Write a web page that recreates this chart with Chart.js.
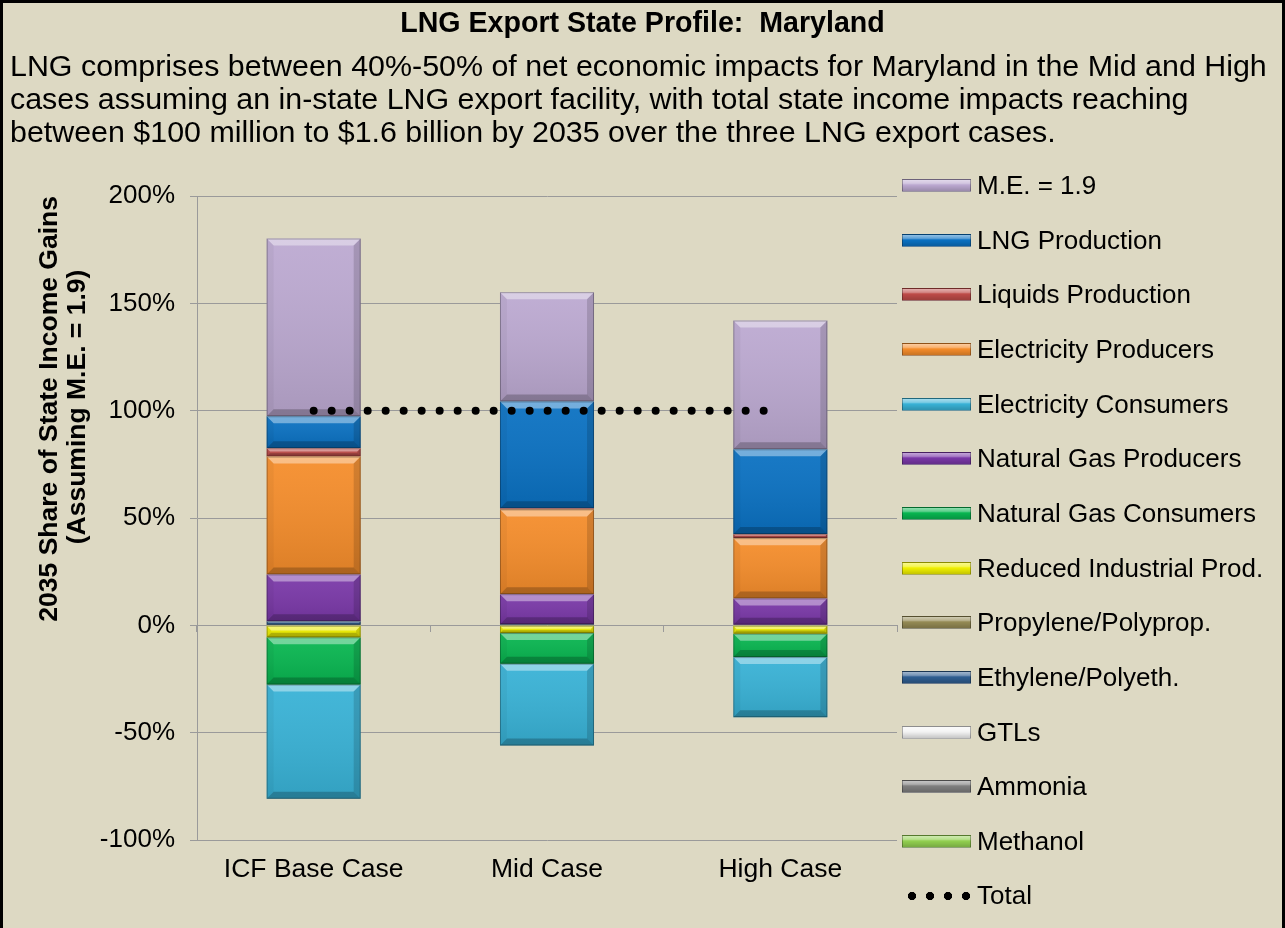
<!DOCTYPE html>
<html>
<head>
<meta charset="utf-8">
<title>LNG Export State Profile: Maryland</title>
<script src="https://cdn.jsdelivr.net/npm/chart.js@4.4.1/dist/chart.umd.min.js"></script>
<style>
  html, body { margin: 0; padding: 0; background: #DDD9C3; overflow: hidden; }
  #page { position: relative; width: 1285px; height: 928px; overflow: hidden; background: #DDD9C3; font-family: Arial, "Liberation Sans", sans-serif; }
  #chart { position: absolute; left: 0; top: 0; }
  #frame { position: absolute; left: 0; top: 0; width: 1279px; height: 940px; border: 3px solid #000; pointer-events: none; }
  #title { position: absolute; left: 0; top: 6px; width: 1285px; text-align: center; font-weight: bold; font-size: 28.6px; line-height: 33px; white-space: pre; }
  #subtitle { position: absolute; left: 10px; top: 49px; font-size: 30.4px; line-height: 33px; white-space: nowrap; }
  #legend { position: absolute; left: 902px; top: 0; }
  .item { position: absolute; left: 0; height: 30px; width: 380px; }
  .swatch { position: absolute; left: 0; top: 8px; width: 67px; height: 11px; border: 1px solid rgba(0,0,0,0.3); }
  .dots { position: absolute; left: 1px; top: 9px; width: 72px; height: 12px;
          background-image: radial-gradient(circle, #000 3.8px, transparent 4.4px); background-size: 18px 12px; }
  .label { position: absolute; left: 75px; top: 0; font-size: 26px; line-height: 28px; white-space: nowrap; color: #000; }
</style>
</head>
<body>
<div id="page">
  <canvas id="chart" width="1285" height="928"></canvas>
  <div id="title">LNG Export State Profile:  Maryland</div>
  <div id="subtitle">LNG comprises between 40%-50% of net economic impacts for Maryland in the Mid and High<br>cases assuming an in-state LNG export facility, with total state income impacts reaching<br>between $100 million to $1.6 billion by 2035 over the three LNG export cases.</div>
  <div id="legend"></div>
  <div id="frame"></div>
</div>
<script>
// categories and series (% share of 2035 state income gains)
const categories = ['ICF Base Case', 'Mid Case', 'High Case'];

const methanol          = [0, 0, 0];
const ammonia           = [0, 0, 0];
const gtls              = [0, 0, 0];
const ethylene          = [1.9, 0.5, 0.3];
const propylene         = [0, 0, 0];
const reducedIndustrial = [-5.6, -3.6, -3.9];
const ngConsumers       = [-22.0, -14.3, -10.9];
const ngProducers       = [21.8, 14.0, 12.2];
const elecConsumers     = [-53.2, -38.1, -28.0];
const elecProducers     = [54.9, 39.5, 28.1];
const liquids           = [3.9, 0.5, 1.9];
const lngProduction     = [14.9, 49.8, 39.5];
const multiplier        = [82.8, 50.9, 60.0];
const total             = [100, 100, 100];

const yTicks = [-100, -50, 0, 50, 100, 150, 200];

// stacking order, bottom to top (legend shows it reversed)
const series = [
    { name: 'Methanol', data: methanol, color: '#92D050' },
    { name: 'Ammonia', data: ammonia, color: '#7F7F7F' },
    { name: 'GTLs', data: gtls, color: '#F2F2F2' },
    { name: 'Ethylene/Polyeth.', data: ethylene, color: '#2F5E91' },
    { name: 'Propylene/Polyprop.', data: propylene, color: '#948A54' },
    { name: 'Reduced Industrial Prod.', data: reducedIndustrial, color: '#F0F000' },
    { name: 'Natural Gas Consumers', data: ngConsumers, color: '#08B650' },
    { name: 'Natural Gas Producers', data: ngProducers, color: '#7A38A8' },
    { name: 'Electricity Consumers', data: elecConsumers, color: '#38B2D6' },
    { name: 'Electricity Producers', data: elecProducers, color: '#F58D2B' },
    { name: 'Liquids Production', data: liquids, color: '#BE4B48' },
    { name: 'LNG Production', data: lngProduction, color: '#0A71C2' },
    { name: 'M.E. = 1.9', data: multiplier, color: '#BCA9D1' }
];

const gridColor = '#9A9A9A';

// bevelled look of the Excel bars, drawn over each bar segment
const bevelPlugin = {
    id: 'bevel',
    afterDatasetDraw(chart, args) {
        const meta = args.meta;
        if (meta.type !== 'bar') return;
        const ctx = chart.ctx;
        ctx.save();
        meta.data.forEach(el => {
            const p = el.getProps(['x', 'y', 'base', 'width'], true);
            const left = p.x - p.width / 2, right = p.x + p.width / 2;
            const top = Math.min(p.y, p.base), bot = Math.max(p.y, p.base);
            const h = bot - top;
            if (h < 0.5) return;
            const b = Math.min(7, h / 2.5);
            const g = ctx.createLinearGradient(0, top, 0, bot);
            g.addColorStop(0, 'rgba(255,255,255,0.06)');
            g.addColorStop(1, 'rgba(0,0,0,0.10)');
            ctx.fillStyle = g;
            ctx.fillRect(left, top, p.width, h);
            const facet = (pts, color) => {
                ctx.beginPath();
                ctx.moveTo(pts[0], pts[1]);
                for (let i = 2; i < pts.length; i += 2) ctx.lineTo(pts[i], pts[i + 1]);
                ctx.closePath();
                ctx.fillStyle = color;
                ctx.fill();
            };
            facet([left, top, right, top, right - b, top + b, left + b, top + b], 'rgba(255,255,255,0.40)');
            facet([left, bot, right, bot, right - b, bot - b, left + b, bot - b], 'rgba(0,0,0,0.22)');
            facet([left, top, left + b, top + b, left + b, bot - b, left, bot], 'rgba(0,0,0,0.04)');
            facet([right, top, right - b, top + b, right - b, bot - b, right, bot], 'rgba(0,0,0,0.14)');
            ctx.strokeStyle = 'rgba(0,0,0,0.28)';
            ctx.lineWidth = 1;
            ctx.strokeRect(left + 0.5, top + 0.5, p.width - 1, h - 1);
        });
        ctx.restore();
    }
};

Chart.defaults.font.family = 'Arial, "Liberation Sans", sans-serif';
Chart.defaults.color = '#000';

const datasets = series.map(s => ({
    type: 'bar',
    label: s.name,
    data: s.data,
    backgroundColor: s.color,
    borderWidth: 0,
    order: 1
}));
datasets.push({
    type: 'line',
    label: 'Total',
    data: total,
    stack: 'total',
    borderColor: '#000',
    borderWidth: 8,
    borderDash: [0, 18],
    borderCapStyle: 'round',
    pointRadius: 0,
    fill: false,
    order: 0
});

const ctx = document.getElementById('chart').getContext('2d');
new Chart(ctx, {
    data: { labels: categories, datasets: datasets },
    plugins: [bevelPlugin],
    options: {
        responsive: false,
        animation: false,
        layout: { padding: { top: 196, right: 388, bottom: 0, left: 0 } },
        datasets: { bar: { barPercentage: 0.403, categoryPercentage: 1 } },
        plugins: { legend: { display: false }, tooltip: { enabled: false } },
        scales: {
            x: {
                stacked: true,
                grid: { display: false, drawTicks: false },
                border: { display: false },
                ticks: { padding: 14, font: { size: 26.5 }, color: '#000' },
                afterFit(scale) { scale.height = 88; }
            },
            x0: {
                type: 'category',
                position: { y: 0 },
                offset: true,
                grid: { offset: true, drawOnChartArea: false, drawTicks: true, tickLength: 7, color: gridColor },
                border: { display: false },
                ticks: { display: false }
            },
            y: {
                stacked: true,
                min: yTicks[0],
                max: yTicks[yTicks.length - 1],
                ticks: {
                    stepSize: 50,
                    padding: 15,
                    font: { size: 26 },
                    color: '#000',
                    callback: v => v + '%'
                },
                grid: { color: gridColor, tickLength: 7, lineWidth: 1 },
                border: { display: true, color: gridColor },
                title: {
                    display: true,
                    text: ['2035 Share of State Income Gains', '(Assuming M.E. = 1.9)          '],
                    align: 'end',
                    font: { size: 26.5, weight: 'bold', lineHeight: 1.04 },
                    padding: { top: 36, bottom: 0 },
                    color: '#000'
                },
                afterFit(scale) { scale.width = 197; }
            }
        }
    }
});

// legend in a single column on the right, top item first
const legendItems = series.slice().reverse().map(s => ({ name: s.name, color: s.color }));
legendItems.push({ name: 'Total', dots: true });
const legend = document.getElementById('legend');
legendItems.forEach((it, i) => {
    const row = document.createElement('div');
    row.className = 'item';
    row.style.top = (185 + i * 54.65 - 14) + 'px';
    const mark = document.createElement('div');
    if (it.dots) {
        mark.className = 'dots';
    } else {
        mark.className = 'swatch';
        mark.style.background = 'linear-gradient(to bottom, rgba(255,255,255,0.55) 0%, rgba(255,255,255,0.35) 30%, rgba(0,0,0,0) 45%, rgba(0,0,0,0.18) 100%), ' + it.color;
    }
    const label = document.createElement('div');
    label.className = 'label';
    label.textContent = it.name;
    row.appendChild(mark);
    row.appendChild(label);
    legend.appendChild(row);
});
</script>
</body>
</html>
